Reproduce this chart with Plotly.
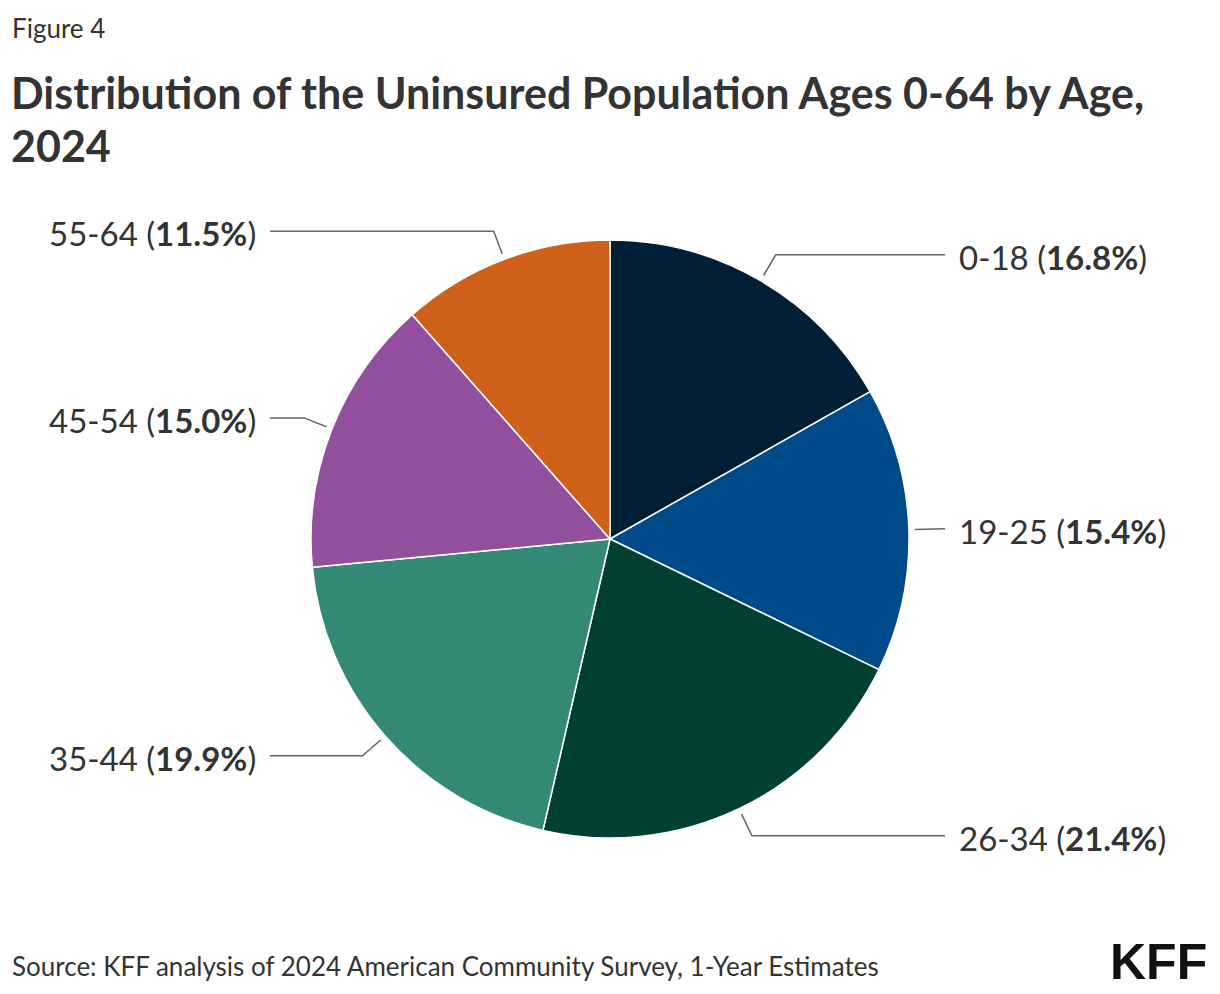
import math
import plotly.graph_objects as go

# Data
age_groups = ["0-18", "19-25", "26-34", "35-44", "45-54", "55-64"]
shares = [16.8, 15.4, 21.4, 19.9, 15.0, 11.5]
colors = ["#001F37", "#004A8A", "#013F32", "#348876", "#924F9D", "#CE6019"]

title_lines = ["Distribution of the Uninsured Population Ages 0-64 by Age,", "2024"]
source = "Source: KFF analysis of 2024 American Community Survey, 1-Year Estimates"

W, H = 1220, 994
FONT = "Lato, 'Source Sans Pro', sans-serif"
TEXT = "#333333"

# pie geometry in pixels
cx, cy, r = 610, 539, 299
r_start, r_elbow = 305, 329
right_x, left_x = 945, 270

fig = go.Figure()

fig.add_trace(go.Pie(
    labels=age_groups,
    values=shares,
    sort=False,
    direction="clockwise",
    rotation=0,
    textinfo="none",
    hoverinfo="label+percent",
    marker=dict(colors=colors, line=dict(color="white", width=1.5)),
    domain=dict(x=[(cx - r) / W, (cx + r) / W], y=[1 - (cy + r) / H, 1 - (cy - r) / H]),
    showlegend=False,
))

# leader lines + labels, positioned from the cumulative shares
total = sum(shares)
cum = 0
for name, val in zip(age_groups, shares):
    mid = (cum + val / 2) / total * 2 * math.pi
    cum += val
    sx, sy = cx + r_start * math.sin(mid), cy - r_start * math.cos(mid)
    ex, ey = cx + r_elbow * math.sin(mid), cy - r_elbow * math.cos(mid)
    right = math.sin(mid) > 0
    hx = right_x if right else left_x
    fig.add_trace(go.Scatter(
        x=[sx, ex, hx], y=[sy, ey, ey], mode="lines",
        line=dict(color="#666666", width=1.5),
        hoverinfo="skip", showlegend=False,
    ))
    fig.add_annotation(
        x=hx + (12 if right else -12), y=ey + 2,
        text=f"{name} (<b>{val:.1f}%</b>)",
        xanchor="left" if right else "right", yanchor="middle",
        showarrow=False, font=dict(size=33, color=TEXT, family=FONT),
    )

fig.add_annotation(x=10, y=28, text="Figure 4", xanchor="left", yanchor="middle",
                   showarrow=False, font=dict(size=26, color=TEXT, family=FONT))
for i, line in enumerate(title_lines):
    fig.add_annotation(x=9, y=92 + 53 * i, text=f"<b>{line}</b>",
                       xanchor="left", yanchor="middle", showarrow=False,
                       font=dict(size=43, color=TEXT, family=FONT))
fig.add_annotation(x=10, y=966, text=source,
                   xanchor="left", yanchor="middle", showarrow=False,
                   font=dict(size=26, color=TEXT, family=FONT))
fig.add_annotation(x=1209, y=962, text="<b>KFF</b>", xanchor="right", yanchor="middle",
                   showarrow=False,
                   font=dict(size=50, color="#111111", family="'Liberation Sans Narrow', sans-serif"))

fig.update_layout(
    width=W, height=H,
    margin=dict(l=0, r=0, t=0, b=0),
    paper_bgcolor="white", plot_bgcolor="rgba(0,0,0,0)",
    xaxis=dict(range=[0, W], visible=False, fixedrange=True),
    yaxis=dict(range=[H, 0], visible=False, fixedrange=True),
)

fig.write_html("out.html", config={"displayModeBar": False},
               post_script="document.body.style.margin='0';")
